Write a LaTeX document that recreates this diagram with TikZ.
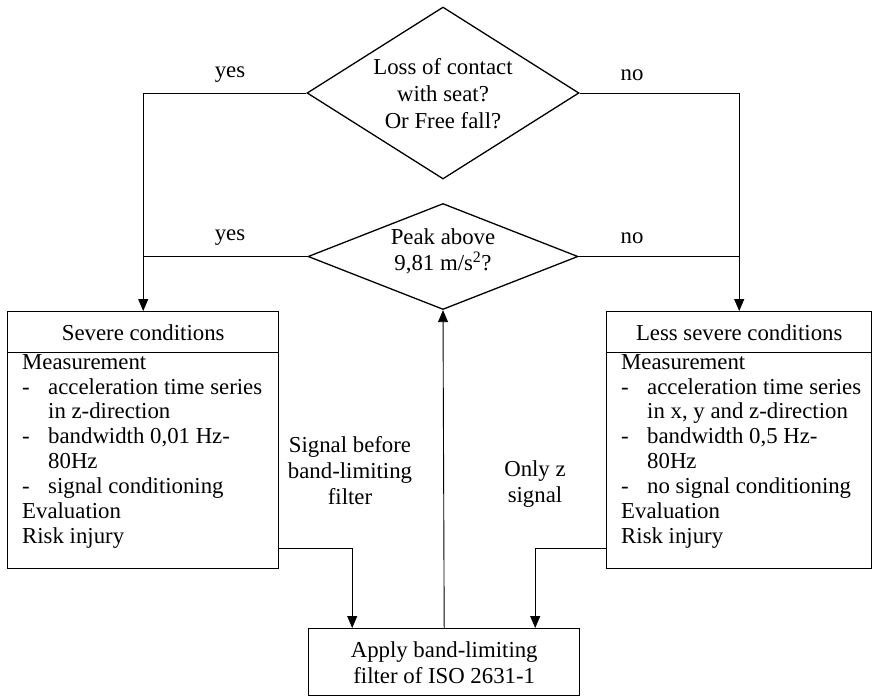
\documentclass[tikz,border=0pt]{standalone}
\usepackage{fontspec}
\setmainfont{Liberation Serif}
\usetikzlibrary{shapes.geometric,arrows.meta}
\newcommand{\itemdash}{\makebox[26pt][l]{-}}
\newcommand{\itemgap}{\hspace*{26pt}}
\begin{document}
\begin{tikzpicture}[x=1pt,y=-1pt,
  font=\fontsize{22.8}{26}\selectfont,
  decision/.style={draw,line width=1.3pt,shape=diamond,inner sep=0pt},
  boxpart/.style={draw,line width=1.4pt,rectangle,inner sep=0pt,anchor=north west},
  lbl/.style={inner sep=0pt,align=center},
  bodytext/.style={inner sep=0pt,align=left,anchor=north west,
    font=\fontsize{22.8}{24.9}\selectfont},
  flow/.style={line width=0.9pt},
  arr/.style={flow,-{Triangle[width=10pt,length=12pt]}},
]
\useasboundingbox (0,0) rectangle (872,697);

% decisions
\node[decision,minimum width=272pt,minimum height=172pt] (d1) at (443,93) {};
\node[lbl,font=\fontsize{22.8}{27}\selectfont] (t1) at (443,94)
  {Loss of contact\\with seat?\\Or Free fall?};
\node[decision,minimum width=270pt,minimum height=106pt] (d2) at (443,256.5) {};
\node[lbl] (t2) at (443,251) {Peak above\\9,81 m/s\textsuperscript{2}?};

% severe conditions
\node[boxpart,minimum width=271pt,minimum height=41pt] (lh) at (7,311) {Severe conditions};
\node[boxpart,minimum width=271pt,minimum height=216pt] (lb) at (7,352) {};
\node[bodytext] (lt) at (22,354) {Measurement\\
  \itemdash acceleration time series\\
  \itemgap in z-direction\\
  \itemdash bandwidth 0,01 Hz-\\
  \itemgap 80Hz\\
  \itemdash signal conditioning\\
  Evaluation\\
  Risk injury};

% less severe conditions
\node[boxpart,minimum width=265pt,minimum height=41pt] (rh) at (606,311) {Less severe conditions};
\node[boxpart,minimum width=265pt,minimum height=216pt] (rb) at (606,352) {};
\node[bodytext] (rt) at (621,354) {Measurement\\
  \itemdash acceleration time series\\
  \itemgap in x, y and z-direction\\
  \itemdash bandwidth 0,5 Hz-\\
  \itemgap 80Hz\\
  \itemdash no signal conditioning\\
  Evaluation\\
  Risk injury};

% filter
\node[boxpart,align=center,minimum width=271pt,minimum height=67pt] (bb) at (308,628)
  {Apply band-limiting\\filter of ISO 2631-1};

% branch labels
\node[lbl] (y1) at (230,75) {yes};
\node[lbl] (n1) at (632,75) {no};
\node[lbl] (y2) at (230,238) {yes};
\node[lbl] (n2) at (632,238) {no};
\node[lbl] (s1) at (350,471) {Signal before\\band-limiting\\filter};
\node[lbl] (s2) at (535,484) {Only z\\signal};

% connectors
\draw[arr] (d1.west) -| (lh.north);
\draw[flow] (d2.west) -- (d2.west -| lh.north);
\draw[arr] (d1.east) -| (rh.north);
\draw[flow] (d2.east) -- (d2.east -| rh.north);
\draw[arr] (bb.north) -- (d2.south);
\draw[arr] ([yshift=21pt]lb.south east) -| ([xshift=-92pt]bb.north);
\draw[arr] ([yshift=21pt]rb.south west) -| ([xshift=91pt]bb.north);
\end{tikzpicture}
\end{document}
